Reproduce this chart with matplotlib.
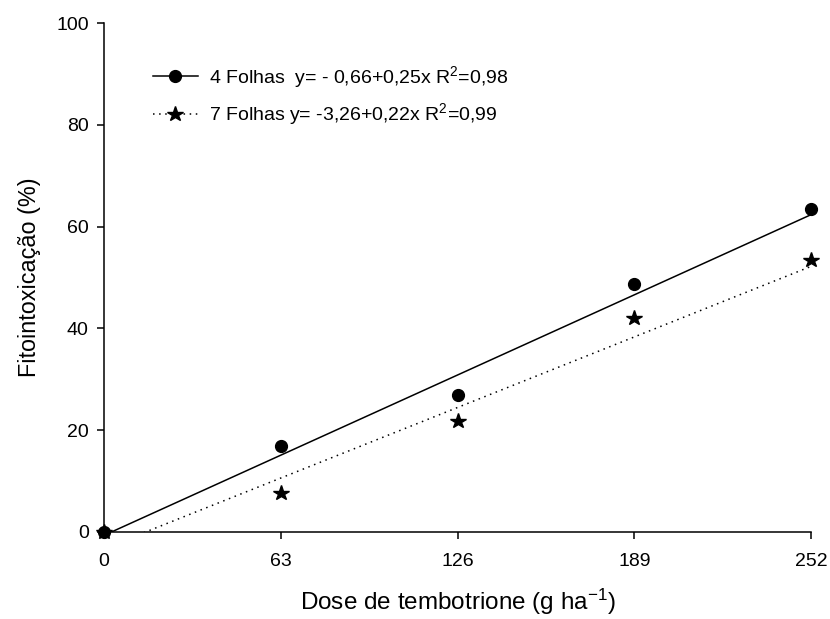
import matplotlib
matplotlib.use("Agg")
import matplotlib.pyplot as plt
import numpy as np
from matplotlib.lines import Line2D

plt.rcParams['font.family'] = ['Liberation Sans', 'DejaVu Sans']
plt.rcParams['mathtext.fontset'] = 'custom'
plt.rcParams['mathtext.rm'] = 'Liberation Sans'
plt.rcParams['mathtext.it'] = 'Liberation Sans'

doses = [0, 63, 126, 189, 252]
folhas4 = [0, 16.9, 26.9, 48.7, 63.5]
folhas7 = [0, 7.7, 21.8, 42.0, 53.4]

fit4 = (-0.66, 0.25)
fit7 = (-3.26, 0.22)

labels = ["4 Folhas  y= - 0,66+0,25x R$^2$=0,98",
          "7 Folhas y= -3,26+0,22x R$^2$=0,99"]

xticks = [0, 63, 126, 189, 252]
yticks = [0, 20, 40, 60, 80, 100]

fig = plt.figure(figsize=(8.30, 6.19), dpi=100)
ax = fig.add_axes([104/830, 1-532/619, (811-104)/830, (532-23)/619])

xs = np.array([doses[0], doses[-1]], dtype=float)
ax.plot(xs, fit4[0] + fit4[1]*xs, color='black', lw=1.1, solid_capstyle='butt')
ax.plot(xs, fit7[0] + fit7[1]*xs, color='black', lw=1.1, linestyle=(0, (1, 3)))

ax.plot(doses, folhas4, 'o', color='black', ms=8.5, clip_on=False, zorder=5)
ax.plot(doses, folhas7, '*', color='black', ms=11.5, clip_on=False, zorder=5)

ax.set_xlim(0, 252)
ax.set_ylim(0, 100)
ax.set_xticks(xticks)
ax.set_yticks(yticks)
ax.spines['top'].set_visible(False)
ax.spines['right'].set_visible(False)
for s in ['left', 'bottom']:
    ax.spines[s].set_linewidth(1.1)
ax.tick_params(direction='out', length=5, width=1.1, labelsize=14)
ax.tick_params(axis='x', pad=10)
ax.tick_params(axis='y', pad=6)

ax.set_xlabel("Dose de tembotrione (g ha$^{-1}$)", fontsize=17.5, labelpad=12)
ax.set_ylabel("Fitointoxicação (%)", fontsize=16.8, labelpad=11)

h1 = Line2D([], [], color='black', lw=1.1, marker='o', ms=8.5)
h2 = Line2D([], [], color='black', lw=1.1, linestyle=(0, (1, 3)), marker='*', ms=11.5)
ax.legend([h1, h2], labels, loc='upper left', bbox_to_anchor=(0.058, 0.935),
          frameon=False, fontsize=14, handlelength=2.3, handletextpad=0.6,
          labelspacing=0.6, borderaxespad=0)

fig.savefig("out.png", dpi=100)
